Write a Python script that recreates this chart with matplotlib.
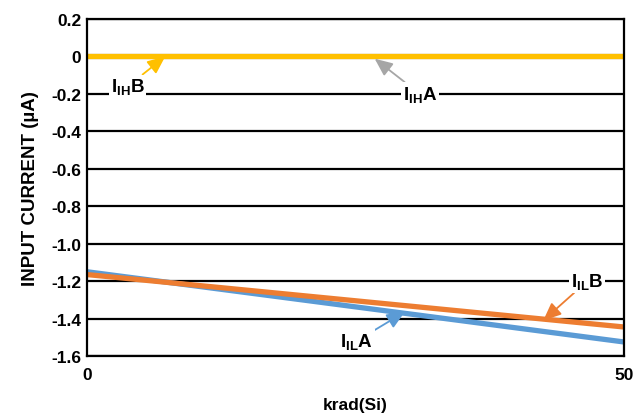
import numpy as np
import matplotlib
matplotlib.use('Agg')
import matplotlib.pyplot as plt

plt.rcParams['font.family'] = ['Liberation Sans', 'DejaVu Sans']
plt.rcParams['font.weight'] = 'bold'
plt.rcParams['mathtext.fontset'] = 'custom'
plt.rcParams['mathtext.rm'] = 'Liberation Sans:bold'
plt.rcParams['mathtext.bf'] = 'Liberation Sans:bold'
plt.rcParams['mathtext.it'] = 'Liberation Sans:bold'

# data
krad = [0, 50]
ihA = [0.0, 0.0]
ihB = [0.0, 0.0]
ilA = [-1.15, -1.525]
ilB = [-1.165, -1.445]
yticks = [0.2, 0, -0.2, -0.4, -0.6, -0.8, -1.0, -1.2, -1.4, -1.6]
ylabels = ['0.2', '0', '-0.2', '-0.4', '-0.6', '-0.8', '-1.0', '-1.2', '-1.4', '-1.6']

yellow = '#FFC000'
blue = '#5B9BD5'
orange = '#ED7D31'
gray = '#A6A6A6'

fig = plt.figure(figsize=(6.34, 4.14), dpi=100)
ax = fig.add_axes([0.137, 0.1377, 0.847, 0.814])

for yv in yticks:
    ax.axhline(yv, color='k', lw=1.6, zorder=1)

ax.plot(krad, ilA, color=blue, lw=3.8, solid_capstyle='butt', zorder=3)
ax.plot(krad, ilB, color=orange, lw=3.8, solid_capstyle='butt', zorder=3)
ax.plot(krad, ihA, color=gray, lw=3.8, solid_capstyle='butt', zorder=3)
ax.plot(krad, ihB, color=yellow, lw=3.8, solid_capstyle='butt', zorder=3)

ax.set_xlim(0, 50)
ax.set_ylim(-1.6, 0.2)
ax.set_xticks([0, 50])
ax.set_xticklabels(['0', '50'])
ax.set_yticks(yticks)
ax.set_yticklabels(ylabels)
ax.tick_params(length=0, labelsize=12.5, pad=4)
ax.tick_params(axis='x', pad=8)
for s in ax.spines.values():
    s.set_linewidth(1.6)
    s.set_zorder(4)

ax.set_xlabel('krad(Si)', fontsize=12.5, fontweight='bold', labelpad=11)
ax.set_ylabel('INPUT CURRENT (µA)', fontsize=13.5, fontweight='bold', labelpad=9)

box = dict(boxstyle='square,pad=0.1', fc='white', ec='none')

def label(txt, tip, pos, col):
    ax.annotate(txt, xy=tip, xytext=pos, ha='center', va='center',
                fontsize=13.5, bbox=box, zorder=5,
                arrowprops=dict(arrowstyle='-|>,head_length=0.8,head_width=0.35',
                                color=col, lw=1.3, shrinkA=0, shrinkB=0))

label(r'$\mathregular{I_{IH}B}$', (7.3, 0.0), (3.8, -0.16), yellow)
label(r'$\mathregular{I_{IH}A}$', (26.8, -0.012), (31.0, -0.2), gray)
label(r'$\mathregular{I_{IL}B}$', (42.5, -1.41), (46.6, -1.2), orange)
label(r'$\mathregular{I_{IL}A}$', (29.6, -1.365), (25.1, -1.52), blue)

fig.savefig('out.png', dpi=100)
